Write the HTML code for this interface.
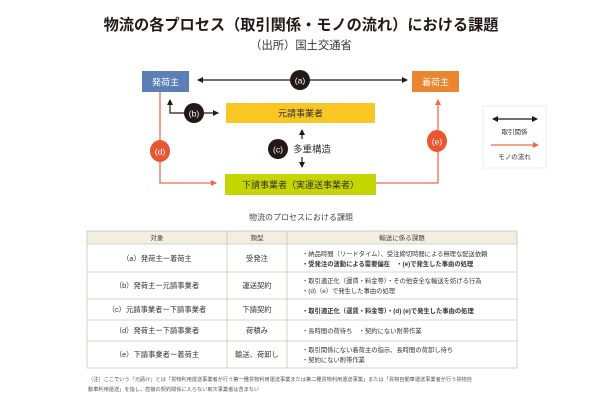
<!DOCTYPE html>
<html><head><meta charset="utf-8"><style>
html,body{margin:0;padding:0;background:#fff;}
svg{display:block;font-family:"Liberation Sans","Noto Sans CJK JP",sans-serif;}
</style></head><body>
<svg width="600" height="400" viewBox="0 0 600 400" xmlns="http://www.w3.org/2000/svg">
<defs>
<marker id="ak" markerWidth="6" markerHeight="6" refX="5" refY="3" orient="auto-start-reverse" markerUnits="userSpaceOnUse"><path d="M0,0 L6,3 L0,6 z" fill="#231815"/></marker>
<marker id="ar" markerWidth="6" markerHeight="6" refX="5" refY="3" orient="auto-start-reverse" markerUnits="userSpaceOnUse"><path d="M0,0 L6,3 L0,6 z" fill="#ee6a4e"/></marker>
</defs>
<text x="301" y="30" font-size="15.2" font-weight="bold" text-anchor="middle" fill="#231815">物流の各プロセス（取引関係・モノの流れ）における課題</text>
<text x="301" y="49" font-size="11.3" text-anchor="middle" fill="#333">（出所）国土交通省</text>

<polyline points="160,91 160,183 216,183" fill="none" stroke="#ee6a4e" stroke-width="1.3" marker-end="url(#ar)"/>
<polyline points="376,183 438,183 438,100" fill="none" stroke="#ee6a4e" stroke-width="1.3" marker-end="url(#ar)"/>
<line x1="198" y1="80" x2="407" y2="80" stroke="#231815" stroke-width="1.2" marker-start="url(#ak)" marker-end="url(#ak)"/>
<polyline points="170,100 170,113 218,113" fill="none" stroke="#231815" stroke-width="1.2" marker-start="url(#ak)" marker-end="url(#ak)"/>
<line x1="302" y1="139" x2="302" y2="130" stroke="#231815" stroke-width="1.2" marker-end="url(#ak)"/>
<line x1="302" y1="157" x2="302" y2="167" stroke="#231815" stroke-width="1.2" marker-end="url(#ak)"/>

<rect x="142" y="71" width="47" height="21" fill="#5b7fb6"/>
<text x="165.5" y="85.5" font-size="9" fill="#fff" text-anchor="middle">発荷主</text>
<rect x="412" y="71" width="47" height="21" fill="#e8872f"/>
<text x="435.5" y="85.5" font-size="9" fill="#fff" text-anchor="middle">着荷主</text>
<rect x="226" y="103" width="149" height="20" fill="#f9c623"/>
<text x="300.5" y="116.5" font-size="9" fill="#333" text-anchor="middle">元請事業者</text>
<rect x="225" y="174" width="151" height="21" fill="#c5d500"/>
<text x="300.5" y="188" font-size="9" fill="#333" text-anchor="middle">下請事業者（実運送事業者）</text>

<circle cx="300" cy="80" r="10" fill="#231815"/><text x="300" y="83.5" font-size="8.5" fill="#fff" text-anchor="middle">(a)</text>
<circle cx="194" cy="113" r="10" fill="#231815"/><text x="194" y="116.5" font-size="8.5" fill="#fff" text-anchor="middle">(b)</text>
<circle cx="278" cy="149" r="10" fill="#231815"/><text x="278" y="152.5" font-size="8.5" fill="#fff" text-anchor="middle">(c)</text>
<text x="293" y="152.5" font-size="9.5" fill="#333">多重構造</text>
<ellipse cx="160" cy="151" rx="10" ry="11" fill="#ea5532"/><text x="160" y="154.5" font-size="8.5" fill="#fff" text-anchor="middle">(d)</text>
<ellipse cx="437" cy="141" rx="10" ry="11" fill="#ea5532"/><text x="437" y="144.5" font-size="8.5" fill="#fff" text-anchor="middle">(e)</text>

<rect x="483" y="106" width="63" height="62" fill="#fff" stroke="#eee" stroke-width="1"/>
<line x1="493" y1="119" x2="537" y2="119" stroke="#231815" stroke-width="1.3" marker-start="url(#ak)" marker-end="url(#ak)"/>
<text x="514.5" y="134" font-size="6.5" fill="#333" text-anchor="middle">取引関係</text>
<line x1="491" y1="145" x2="538" y2="145" stroke="#ee6a4e" stroke-width="1.3" marker-end="url(#ar)"/>
<text x="514.5" y="159" font-size="6.5" fill="#333" text-anchor="middle">モノの流れ</text>

<text x="301" y="220" font-size="8" fill="#444" text-anchor="middle">物流のプロセスにおける課題</text>
<rect x="87" y="231" width="430" height="13" fill="#f2efe1"/>
<g stroke="#c9c6bb" stroke-width="0.8" fill="none">
<rect x="87" y="231" width="430" height="137"/>
<line x1="87" y1="244" x2="517" y2="244"/>
<line x1="87" y1="272" x2="517" y2="272"/>
<line x1="87" y1="299" x2="517" y2="299"/>
<line x1="87" y1="320" x2="517" y2="320"/>
<line x1="87" y1="341" x2="517" y2="341"/>
<line x1="227" y1="231" x2="227" y2="368"/>
<line x1="287" y1="231" x2="287" y2="368"/>
</g>
<g font-size="6.5" fill="#444" text-anchor="middle">
<text x="157" y="240">対象</text><text x="257" y="240">類型</text><text x="402" y="240">輸送に係る課題</text>
</g>
<g font-size="7.3" fill="#333" text-anchor="middle">
<text x="157" y="261">（a）発荷主ー着荷主</text><text x="257" y="261">受発注</text>
<text x="157" y="288">（b）発荷主ー元請事業者</text><text x="257" y="288">運送契約</text>
<text x="157" y="312">（c）元請事業者ー下請事業者</text><text x="257" y="312">下請契約</text>
<text x="157" y="333">（d）発荷主ー下請事業者</text><text x="257" y="333">荷積み</text>
<text x="157" y="357">（e）下請事業者ー着荷主</text><text x="257" y="357">輸送、荷卸し</text>
</g>
<g font-size="6.3" fill="#333">
<text x="302" y="256">・納品時間（リードタイム）、受注締切時間による無理な配送依頼</text>
<text x="302" y="266" font-weight="bold">・受発注の波動による需要偏在　・(e)で発生した事由の処理</text>
<text x="302" y="283">・取引適正化（運賃・料金等）・その他安全な輸送を妨げる行為</text>
<text x="302" y="293">・(d)（e）で発生した事由の処理</text>
<text x="302" y="313" font-weight="bold">・取引適正化（運賃・料金等）・(d) (e)で発生した事由の処理</text>
<text x="302" y="333">・長時間の荷待ち　・契約にない附帯作業</text>
<text x="302" y="352">・取引関係にない着荷主の指示、長時間の荷卸し待ち</text>
<text x="302" y="362">・契約にない附帯作業</text>
</g>
<g font-size="5.2" fill="#555">
<text x="88" y="381">（注）ここでいう「元請け」とは「貨物利用運送事業者が行う第一種貨物利用運送事業または第二種貨物利用運送事業」または「貨物自動車運送事業者が行う貨物自</text>
<text x="88" y="391">動車利用運送」を指し、直接の契約関係に入らない取次事業者は含まない</text>
</g>
</svg>
</body></html>
